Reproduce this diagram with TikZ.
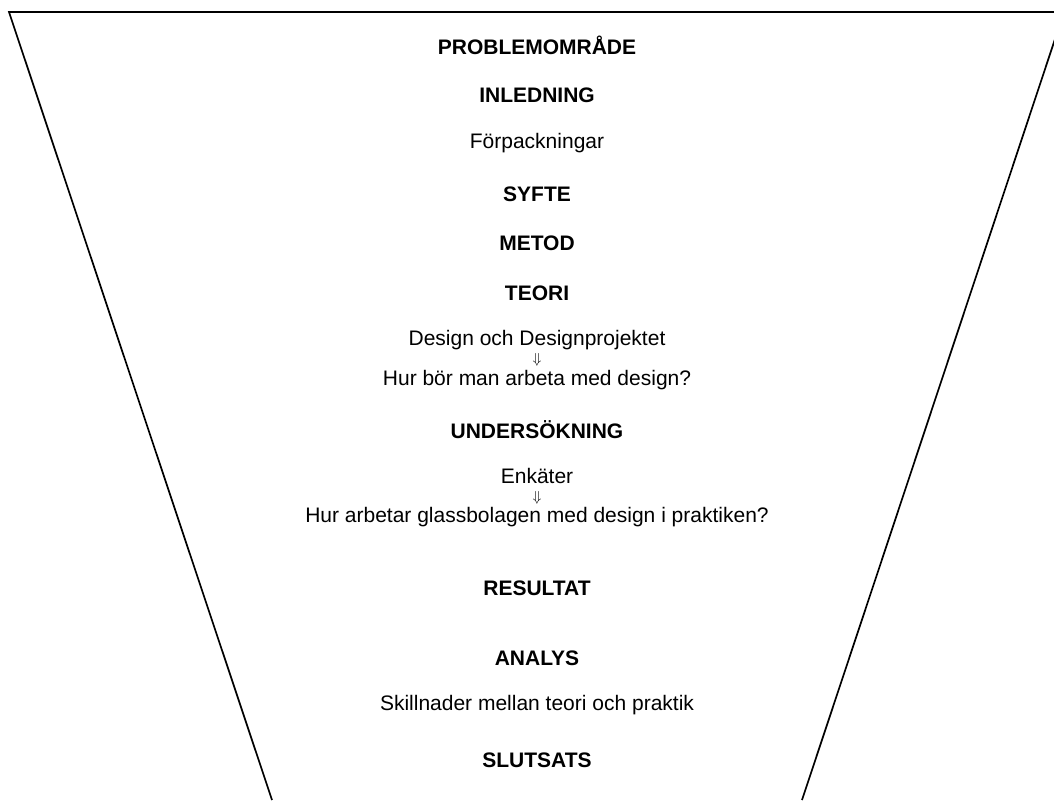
\documentclass[tikz,border=0pt]{standalone}
\usepackage{fontspec}
\setmainfont{Liberation Sans}
\begin{document}
\begin{tikzpicture}[x=1pt,y=-1pt,
  head/.style={font=\fontsize{21}{25}\selectfont\bfseries, inner sep=0pt, anchor=center},
  body/.style={font=\fontsize{21}{25}\selectfont, inner sep=0pt, anchor=center},
  arr/.style={font=\fontsize{14}{16}\selectfont, inner sep=0pt, anchor=center}]
\useasboundingbox (0,0) rectangle (1054,800);
\begin{scope}
\clip (0,0) rectangle (1054,800);
\coordinate (tl) at (9,12);
\coordinate (tr) at (1064,12);
\coordinate (bl) at (272,800);
\coordinate (br) at (802,800);
\draw[line width=1.7pt, line join=miter] (bl) -- (tl) -- (tr) -- (br);
\end{scope}
\def\cx{537}
\node[head] (prob) at (\cx,45) {PROBLEMOMRÅDE};
\node[head] (inl) at (\cx,95) {INLEDNING};
\node[body] (forp) at (\cx,143) {Förpackningar};
\node[head] (syfte) at (\cx,194) {SYFTE};
\node[head] (metod) at (\cx,243) {METOD};
\node[head] (teori) at (\cx,293) {TEORI};
\node[body] (design) at (\cx,340) {Design och Designprojektet};
\node[arr] (a1) at (\cx,360) {$\Downarrow$};
\node[body] (hur1) at (\cx,380) {Hur bör man arbeta med design?};
\node[head] (unders) at (\cx,430) {UNDERSÖKNING};
\node[body] (enk) at (\cx,476) {Enkäter};
\node[arr] (a2) at (\cx,498) {$\Downarrow$};
\node[body] (hur2) at (\cx,517) {Hur arbetar glassbolagen med design i praktiken?};
\node[head] (res) at (\cx,588) {RESULTAT};
\node[head] (anal) at (\cx,658) {ANALYS};
\node[body] (skill) at (\cx,705) {Skillnader mellan teori och praktik};
\node[head] (slut) at (\cx,760) {SLUTSATS};
\end{tikzpicture}
\end{document}
